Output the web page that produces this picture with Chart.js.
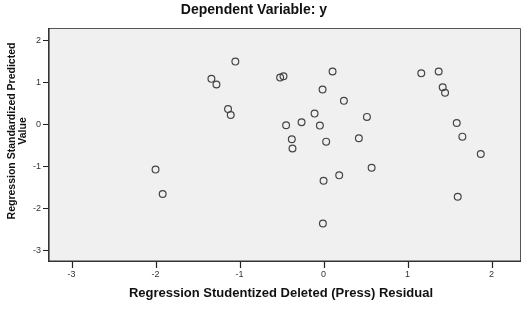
<!DOCTYPE html>
<html>
<head>
<meta charset="utf-8">
<style>
  html, body { margin: 0; padding: 0; background: #fff; }
  #wrap { width: 529px; height: 316px; }
</style>
<script src="https://cdn.jsdelivr.net/npm/chart.js@4"></script>
</head>
<body>
<div id="wrap"><canvas id="ResidChart" width="529" height="316"></canvas></div>
<script>
// residuals (x) and standardized predicted values (y)
const residX = [-1.05, -1.335, -1.275, -1.137, -1.105, -2.0, -1.915, -0.517, -0.477, 0.107,
                -0.012, 0.242, -0.107, 0.516, -0.446, -0.262, -0.044, -0.378, -0.37, 0.031,
                0.42, 0.572, 1.163, 1.37, 1.418, 1.446, 1.585, 1.652, 1.871, 0.186,
                0.0, 1.597, -0.008];
const predY = [1.49, 1.08, 0.945, 0.36, 0.22, -1.08, -1.66, 1.11, 1.14, 1.255,
               0.826, 0.556, 0.253, 0.174, -0.024, 0.048, -0.033, -0.358, -0.58, -0.415,
               -0.335, -1.035, 1.21, 1.255, 0.88, 0.747, 0.03, -0.296, -0.709, -1.217,
               -1.345, -1.728, -2.363];
const xTicks = [-3, -2, -1, 0, 1, 2];
const yTicks = [-3, -2, -1, 0, 1, 2];

const chartTitle = "Dependent Variable: y";
const xTitle = "Regression Studentized Deleted (Press) Residual";
const yTitle = ["Regression Standardized Predicted", "Value"];

const FONT = "'Liberation Sans', Arial, sans-serif";

// plot background, frame, tick marks and titles
const decor = {
    id: "decor",
    beforeDraw(chart) {
        const { ctx, chartArea: a } = chart;
        ctx.save();
        ctx.fillStyle = "#f0f0f0";
        ctx.fillRect(a.left, a.top, a.right - a.left, a.bottom - a.top);
        ctx.restore();
    },
    afterDraw(chart) {
        const { ctx, chartArea: a } = chart;
        const sx = chart.scales.x, sy = chart.scales.y;
        ctx.save();
        // top / right edges lighter
        ctx.strokeStyle = "#555";
        ctx.lineWidth = 1;
        ctx.beginPath();
        ctx.moveTo(a.left, a.top + 0.5);
        ctx.lineTo(a.right - 0.5, a.top + 0.5);
        ctx.lineTo(a.right - 0.5, a.bottom);
        ctx.stroke();
        // left / bottom edges heavier
        ctx.strokeStyle = "#333";
        ctx.lineWidth = 1.6;
        ctx.beginPath();
        ctx.moveTo(a.left + 0.8, a.top);
        ctx.lineTo(a.left + 0.8, a.bottom - 0.8);
        ctx.lineTo(a.right, a.bottom - 0.8);
        ctx.stroke();

        // tick marks
        ctx.strokeStyle = "#222";
        ctx.lineWidth = 1.2;
        ctx.beginPath();
        xTicks.forEach(v => {
            const px = Math.round(sx.getPixelForValue(v)) + 0.5;
            ctx.moveTo(px, a.bottom);
            ctx.lineTo(px, a.bottom + 6);
        });
        yTicks.forEach(v => {
            const py = Math.round(sy.getPixelForValue(v)) + 0.5;
            ctx.moveTo(a.left, py);
            ctx.lineTo(a.left - 5, py);
        });
        ctx.stroke();

        ctx.fillStyle = "#111";
        ctx.textAlign = "center";
        ctx.textBaseline = "middle";
        ctx.font = "bold 14px " + FONT;
        ctx.fillText(chartTitle, 254, 10);

        ctx.font = "bold 13px " + FONT;
        ctx.fillText(xTitle, 281, 293);

        ctx.save();
        ctx.translate(12, 131);
        ctx.rotate(-Math.PI / 2);
        ctx.font = "bold 10.5px " + FONT;
        ctx.fillText(yTitle[0], 0, 0);
        ctx.fillText(yTitle[1], 0, 11);
        ctx.restore();
        ctx.restore();
    }
};

const axisCommon = {
    type: "linear",
    grid: { display: false, drawTicks: false },
    border: { display: false },
    ticks: { color: "#333", font: { family: FONT, size: 9 }, padding: 7, includeBounds: false, stepSize: 1 }
};

new Chart(document.getElementById("ResidChart").getContext("2d"), {
    type: "scatter",
    data: {
        datasets: [{
            data: residX.map((x, i) => ({ x: x, y: predY[i] })),
            pointStyle: "circle",
            pointRadius: 3.4,
            pointHoverRadius: 3.4,
            borderWidth: 1.2,
            borderColor: "#444",
            backgroundColor: "rgba(0,0,0,0)"
        }]
    },
    options: {
        responsive: false,
        animation: false,
        events: [],
        layout: { padding: { top: 28, right: 8, left: 0, bottom: 0 } },
        plugins: { legend: { display: false }, tooltip: { enabled: false } },
        scales: {
            x: Object.assign({}, axisCommon, {
                min: -3.28, max: 2.35,
                afterBuildTicks: s => { s.ticks = xTicks.map(v => ({ value: v })); },
                afterFit: s => { s.height = 54; }
            }),
            y: Object.assign({}, axisCommon, {
                min: -3.28, max: 2.29,
                afterBuildTicks: s => { s.ticks = yTicks.map(v => ({ value: v })); },
                afterFit: s => { s.width = 48; }
            })
        }
    },
    plugins: [decor]
});
</script>
</body>
</html>
